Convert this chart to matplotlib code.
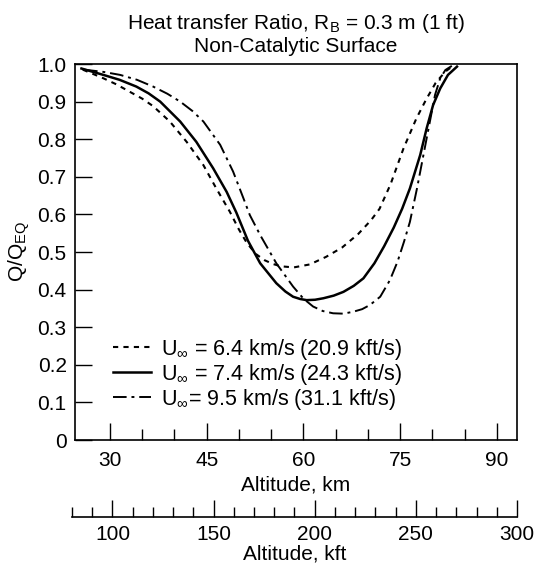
import matplotlib
matplotlib.use("Agg")
import matplotlib.pyplot as plt
from matplotlib.ticker import MultipleLocator, FixedLocator

plt.rcParams['font.family'] = ['Liberation Sans', 'DejaVu Sans']
plt.rcParams['mathtext.fontset'] = 'custom'
plt.rcParams['mathtext.rm'] = 'Liberation Sans'
plt.rcParams['mathtext.it'] = 'Liberation Sans'

# U = 6.4 km/s (dashed)
alt_64 = [25.8, 29.0, 31.0, 33.1, 35.0, 36.7, 39.3, 41.9, 44.5, 46.5, 48.6, 50.0, 51.2, 52.6, 54.0,
          55.3, 56.5, 58.5, 61.0, 63.5, 66.0, 68.5, 70.5, 71.8, 73.5, 75.5, 77.5, 79.0, 80.5, 82.0, 82.8]
q_64 = [0.985, 0.962, 0.946, 0.926, 0.908, 0.888, 0.847, 0.793, 0.731, 0.669, 0.607, 0.560, 0.525, 0.495, 0.478,
        0.468, 0.462, 0.459, 0.467, 0.487, 0.512, 0.548, 0.585, 0.615, 0.680, 0.775, 0.855, 0.905, 0.950, 0.980, 0.990]

# U = 7.4 km/s (solid)
alt_74 = [25.6, 29.0, 31.5, 34.1, 36.0, 37.8, 40.9, 43.4, 46.0, 48.1, 49.6, 51.4, 53.3, 55.8, 57.2, 58.4,
          59.5, 60.5, 61.8, 63.1, 64.7, 66.2, 67.8, 69.3, 71.0, 72.5, 74.0, 75.3, 76.5, 78.1, 79.1, 80.1,
          81.2, 82.4, 83.8]
q_74 = [0.988, 0.971, 0.958, 0.940, 0.922, 0.900, 0.847, 0.793, 0.723, 0.660, 0.605, 0.530, 0.470, 0.417, 0.395, 0.381,
        0.375, 0.372, 0.373, 0.377, 0.384, 0.394, 0.410, 0.430, 0.470, 0.515, 0.565, 0.615, 0.669, 0.758, 0.829, 0.891,
        0.935, 0.971, 0.993]

# U = 9.5 km/s (dash-dot)
alt_95 = [26.0, 29.0, 31.6, 34.2, 36.7, 38.9, 40.9, 42.8, 44.5, 47.1, 49.1, 50.7, 51.7, 53.3, 55.8, 58.4,
          60.0, 61.5, 63.0, 64.6, 66.2, 67.7, 69.1, 70.3, 71.9, 73.4, 74.6, 75.6, 76.5, 77.6, 78.6, 79.6,
          80.4, 81.2, 82.0, 83.0]
q_95 = [0.985, 0.979, 0.971, 0.958, 0.940, 0.921, 0.900, 0.875, 0.847, 0.785, 0.714, 0.643, 0.598, 0.545, 0.470, 0.408,
        0.376, 0.355, 0.343, 0.337, 0.336, 0.341, 0.348, 0.359, 0.381, 0.425, 0.475, 0.528, 0.580, 0.669, 0.758, 0.847,
        0.918, 0.962, 0.984, 0.995]

labels = [r'U$_\infty$ = 6.4 km/s (20.9 kft/s)',
          r'U$_\infty$ = 7.4 km/s (24.3 kft/s)',
          r'U$_\infty$= 9.5 km/s (31.1 kft/s)']

km_minor = [35, 40, 50, 55, 65, 70, 80, 85]
ytick_vals = [0, .1, .2, .3, .4, .5, .6, .7, .8, .9, 1.0]
ytick_text = ['0', '0.1', '0.2', '0.3', '0.4', '0.5', '0.6', '0.7', '0.8', '0.9', '1.0']

W, H = 534, 566
FS = 15
fig = plt.figure(figsize=(W / 100, H / 100), dpi=100)
ax = fig.add_axes([75 / W, 1 - 440 / H, (517 - 75) / W, (440 - 64) / H])

ax.plot(alt_64, q_64, color='black', lw=1.5, ls=(0, (2.5, 2.5)), label=labels[0])
ax.plot(alt_74, q_74, color='black', lw=1.8, ls='-', label=labels[1])
ax.plot(alt_95, q_95, color='black', lw=1.4, ls=(0, (7, 2.5, 1.5, 2.5)), label=labels[2])

ax.set_xlim(24.6, 93.1)
ax.set_ylim(0, 1.0)
ax.xaxis.set_major_locator(MultipleLocator(15))
ax.xaxis.set_minor_locator(FixedLocator(km_minor))
ax.set_yticks(ytick_vals)
ax.set_yticklabels(ytick_text)
ax.tick_params(axis='both', which='major', direction='in', length=12.5, width=1, labelsize=FS)
ax.tick_params(axis='x', which='major', pad=8)
ax.tick_params(axis='y', which='major', pad=6)
ax.tick_params(axis='x', which='minor', direction='in', length=8, width=1)
ax.tick_params(axis='y', which='minor', left=False)
for s in ax.spines.values():
    s.set_linewidth(1.2)

ax.set_xlabel('Altitude, km', fontsize=FS, labelpad=4)
ax.set_ylabel(r'Q/Q$_{\rm EQ}$', fontsize=FS, labelpad=4)
ax.set_title('Heat transfer Ratio, R$_{\\rm B}$ = 0.3 m (1 ft)\nNon-Catalytic Surface',
             fontsize=FS, linespacing=1.1, pad=9)

ax.legend(loc='upper left', bbox_to_anchor=(0.086, 0.275), frameon=False, fontsize=15.5,
          handlelength=1.75, handletextpad=0.5, labelspacing=0.0, borderpad=0, borderaxespad=0)

# secondary altitude scale in kft
ax2 = fig.add_axes([72 / W, 1 - 517 / H, (517 - 72) / W, 0.001])
ax2.set_xlim(80, 300)
ax2.set_yticks([])
for side in ['top', 'left', 'right']:
    ax2.spines[side].set_visible(False)
ax2.spines['bottom'].set_linewidth(1.2)
ax2.xaxis.set_major_locator(MultipleLocator(50))
ax2.xaxis.set_minor_locator(MultipleLocator(10))
ax2.tick_params(axis='x', which='major', direction='in', length=12.5, width=1, labelsize=FS, pad=6)
ax2.tick_params(axis='x', which='minor', direction='in', length=7, width=1)
fig.text((72 + 517) / 2 / W, 1 - 554 / H, 'Altitude, kft', fontsize=FS, ha='center', va='center')

fig.savefig('out.png', dpi=100)
